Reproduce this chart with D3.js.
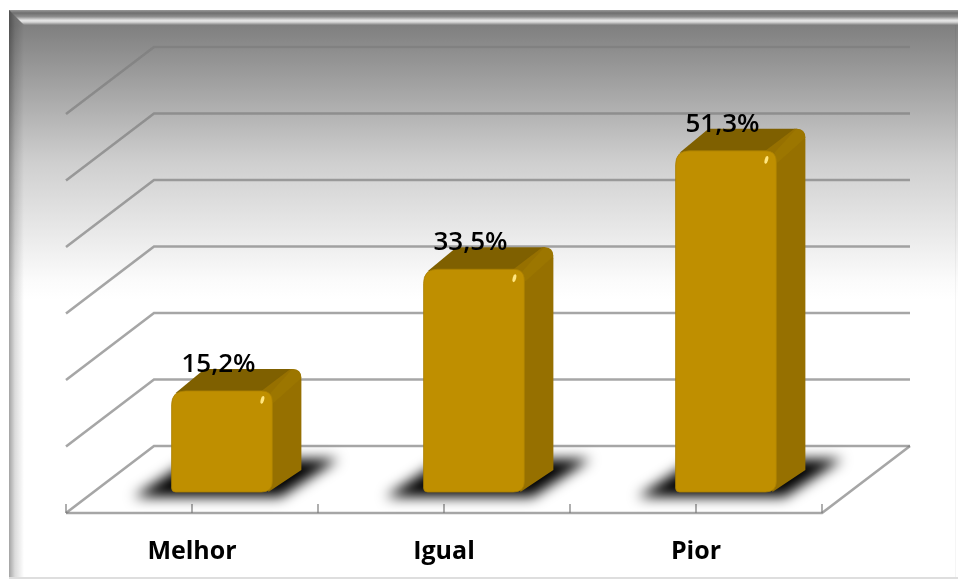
<!DOCTYPE html>
<html>
<head>
<meta charset="utf-8">
<script src="https://cdn.jsdelivr.net/npm/d3@7"></script>
<style>
    html, body { margin: 0; padding: 0; background: #fff; }
    svg { display: block; }
    text { font-family: "Open Sans", Lato, sans-serif; fill: #000; }
</style>
</head>
<body>
<svg id="chart" width="958" height="581"></svg>
<script>
// Data
const categories = ['Melhor', 'Igual', 'Pior'];
const values = [15.2, 33.5, 51.3];
const value_labels = ['15,2%', '33,5%', '51,3%'];
const grid_ticks = [0, 10, 20, 30, 40, 50, 60];

const svg = d3.select('#chart');
const defs = svg.append('defs');

// Plot geometry
const depth = { x: 88, y: 67 };
const bar_depth = { x: 29, y: 22 };
const bar_offset = { x: 30, y: 21 };   // bar front face, from the front of the floor
const radius = 11;

const x = d3.scaleBand().domain(categories).range([66, 822]);
const y = d3.scaleLinear().domain([0, 60]).range([513, 114]);

// -------------------------------------------------------------------------------------------------
// Gradients and filters
// -------------------------------------------------------------------------------------------------
function gradient(id, x2, y2, stops) {
    let g = defs.append('linearGradient').attr('id', id)
        .attr('x1', 0).attr('y1', 0)
        .attr('x2', x2).attr('y2', y2);
    stops.forEach(s => g.append('stop').attr('offset', s[0]).attr('stop-color', s[1]).attr('stop-opacity', s[2] === undefined ? 1 : s[2]));
}
gradient('back', 0, 1, [[0, '#7f7f7f'], [0.5, '#cfcfcf'], [0.93, '#fbfbfb'], [1, '#ffffff']]);
gradient('bevel-top', 0, 1, [[0, '#9a9a9a'], [0.2, '#6f6f6f'], [0.45, '#8f8f8f'], [0.68, '#e6e6e6'], [0.8, '#d8d8d8'], [1, '#828282']]);
gradient('bevel-left', 1, 0, [[0, '#000', 0.36], [0.4, '#000', 0.14], [1, '#000', 0]]);

function blur(id, amount) {
    defs.append('filter').attr('id', id)
        .attr('filterUnits', 'userSpaceOnUse')
        .attr('x', 0).attr('y', 0).attr('width', 958).attr('height', 581)
        .append('feGaussianBlur').attr('stdDeviation', amount);
}
blur('soft', 0.7);
blur('text-soft', 0.35);
blur('shadow', 6.5);

// -------------------------------------------------------------------------------------------------
// Frame
// -------------------------------------------------------------------------------------------------
svg.append('rect').attr('x', 9).attr('y', 25).attr('width', 949).attr('height', 275).attr('fill', 'url(#back)');
svg.append('rect').attr('x', 9).attr('y', 10).attr('width', 949).attr('height', 15).attr('fill', 'url(#bevel-top)');
svg.append('path').attr('d', 'M9,10L24,25H9Z').attr('fill', '#7f7f7f');
svg.append('path').attr('d', 'M9,10L24,25V577L9,577Z').attr('fill', 'url(#bevel-left)');
svg.append('rect').attr('x', 9).attr('y', 577).attr('width', 949).attr('height', 2).attr('fill', '#dedede');
svg.append('rect').attr('x', 955).attr('y', 25).attr('width', 1).attr('height', 552).attr('fill', '#000').attr('opacity', 0.04);

// -------------------------------------------------------------------------------------------------
// Walls and floor
// -------------------------------------------------------------------------------------------------
const grid = svg.append('g')
    .attr('filter', 'url(#soft)')
    .attr('fill', 'none')
    .attr('stroke', '#7c7c7c')
    .attr('stroke-opacity', 0.68)
    .attr('stroke-width', 2.6);

const x_left = x.range()[0];
const x_right = x.range()[1];

grid.selectAll('.grid-line')
    .data(grid_ticks)
    .enter().append('path')
    .classed('grid-line', true)
    .attr('d', d => `M${x_left},${y(d)}L${x_left + depth.x},${y(d) - depth.y}H${x_right + depth.x}`);

grid.append('path').attr('d', `M${x_right + depth.x},${y(0) - depth.y}L${x_right},${y(0)}H${x_left}`);

// ticks on the band edges and the band centres
const tick_xs = categories.flatMap(c => [x(c), x(c) + x.bandwidth() / 2]).concat([x_right]);
grid.selectAll('.tick-mark')
    .data(tick_xs)
    .enter().append('line')
    .classed('tick-mark', true)
    .attr('stroke-width', 1.8)
    .attr('x1', d => d).attr('x2', d => d)
    .attr('y1', y(0) - 9).attr('y2', y(0));

// -------------------------------------------------------------------------------------------------
// Bars
// -------------------------------------------------------------------------------------------------
const bar_width = x.bandwidth() * 0.4;
const bar_left = c => x(c) + x.bandwidth() / 2 - bar_width / 2 + bar_offset.x;
const bar_top = v => y(v) - bar_offset.y;
const bar_base = y(0) - bar_offset.y;

const shadows = svg.append('g').attr('filter', 'url(#shadow)');
shadows.selectAll('path')
    .data(categories)
    .enter().append('path')
    .attr('fill', '#000')
    .attr('d', c => {
        let l = bar_left(c);
        return `M${l - 38},${bar_base + 5}H${l + bar_width + 8}L${l + bar_width + 66},${bar_base - 33}H${l + 20}Z`;
    });

const bars = svg.selectAll('.bar')
    .data(categories.map((c, i) => ({ category: c, value: values[i], label: value_labels[i] })))
    .enter().append('g')
    .classed('bar', true)
    .attr('filter', 'url(#soft)');

const r = radius;
const dx = bar_depth.x;
const dy = bar_depth.y;

// top face
bars.append('path')
    .attr('fill', '#7f6000')
    .attr('d', d => {
        let l = bar_left(d.category), t = bar_top(d.value), w = bar_width;
        return `M${l + 4},${t + 2}L${l + dx + 4},${t - dy}H${l + w + dx - 8}L${l + w},${t + 4}Z`;
    });

// right side
bars.append('path')
    .attr('fill', '#967000')
    .attr('d', d => {
        let l = bar_left(d.category), t = bar_top(d.value), w = bar_width;
        return `M${l + w - r},${t}L${l + w + dx - r},${t - dy}Q${l + w + dx},${t - dy} ${l + w + dx},${t - dy + r}V${bar_base - dy}L${l + w - 4},${bar_base}Z`;
    });

// lighter strip where the top meets the side
bars.append('path')
    .attr('fill', '#9c7600')
    .attr('d', d => {
        let l = bar_left(d.category), t = bar_top(d.value), w = bar_width;
        return `M${l + w - 2},${t + 2}L${l + w + dx - 9},${t - dy}Q${l + w + dx},${t - dy} ${l + w + dx},${t - dy + 9}L${l + w + 1},${t + 12}Z`;
    });

// front face
bars.append('path')
    .attr('fill', '#bf8f00')
    .attr('stroke', '#a97f00')
    .attr('stroke-width', 0.8)
    .attr('d', d => {
        let l = bar_left(d.category), t = bar_top(d.value), w = bar_width;
        return `M${l},${t + r + 3}Q${l},${t} ${l + r + 3},${t}H${w + l - r}Q${l + w},${t} ${l + w},${t + r}V${bar_base - r}Q${l + w},${bar_base} ${l + w - r},${bar_base}H${l + 4}Q${l},${bar_base} ${l},${bar_base - 4}Z`;
    });

// glint on the corner
bars.append('ellipse')
    .attr('fill', '#ffe680')
    .attr('cx', d => bar_left(d.category) + bar_width - 10)
    .attr('cy', d => bar_top(d.value) + 9)
    .attr('rx', 1.7)
    .attr('ry', 4)
    .attr('transform', d => `rotate(15 ${bar_left(d.category) + bar_width - 10} ${bar_top(d.value) + 9})`);

// -------------------------------------------------------------------------------------------------
// Labels
// -------------------------------------------------------------------------------------------------
const labels = svg.append('g').attr('filter', 'url(#text-soft)');

labels.selectAll('.value-label')
    .data(bars.data())
    .enter().append('text')
    .classed('value-label', true)
    .attr('x', d => bar_left(d.category) + bar_width / 2 - 3.5)
    .attr('y', d => bar_top(d.value) - 19)
    .attr('text-anchor', 'middle')
    .attr('font-size', 26)
    .attr('font-weight', 600)
    .text(d => d.label);

labels.selectAll('.category-label')
    .data(categories)
    .enter().append('text')
    .classed('category-label', true)
    .attr('x', d => x(d) + x.bandwidth() / 2)
    .attr('y', 559)
    .attr('text-anchor', 'middle')
    .attr('font-size', 25)
    .attr('font-weight', 700)
    .text(d => d);
</script>
</body>
</html>
